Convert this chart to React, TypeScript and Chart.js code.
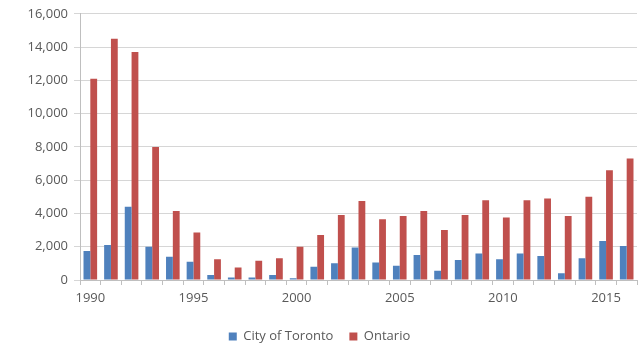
import React, { useEffect, useRef } from "react";
import { Chart, registerables } from "chart.js";

Chart.register(...registerables);

const years: string[] = [
  "1990","1991","1992","1993","1994","1995","1996","1997","1998","1999",
  "2000","2001","2002","2003","2004","2005","2006","2007","2008","2009",
  "2010","2011","2012","2013","2014","2015","2016",
];
const toronto: number[] = [
  1750, 2100, 4400, 2000, 1400, 1100, 300, 150, 150, 300,
  100, 800, 1000, 1950, 1050, 850, 1500, 550, 1200, 1600,
  1250, 1600, 1450, 400, 1300, 2350, 2050,
];
const ontario: number[] = [
  12100, 14500, 13700, 8000, 4150, 2850, 1250, 750, 1150, 1300,
  2000, 2700, 3900, 4750, 3650, 3850, 4150, 3000, 3900, 4800,
  3750, 4800, 4900, 3850, 5000, 6600, 7300,
];

export default function App() {
  const ref = useRef<HTMLCanvasElement | null>(null);
  useEffect(() => {
    if (!ref.current) return;
    const font = { family: "'Open Sans', 'Liberation Sans', sans-serif", size: 13 };
    const chart = new Chart(ref.current, {
      type: "bar",
      data: {
        labels: years,
        datasets: [
          { label: "City of Toronto", data: toronto, backgroundColor: "#4F81BD", categoryPercentage: 0.66, barPercentage: 1.0 },
          { label: "Ontario", data: ontario, backgroundColor: "#C0504D", categoryPercentage: 0.66, barPercentage: 1.0 },
        ],
      },
      options: {
        responsive: false,
        animation: false,
        maintainAspectRatio: false,
        layout: { padding: { left: 2, right: 6, top: 6, bottom: 0 } },
        plugins: {
          tooltip: { enabled: false },
          legend: {
            position: "bottom",
            labels: { boxWidth: 8, boxHeight: 8, color: "#595959", font, padding: 16 },
          },
        },
        scales: {
          x: {
            grid: { display: true, drawOnChartArea: false, drawTicks: true, tickLength: 5, color: "#BFBFBF", offset: true },
            border: { color: "#BFBFBF" },
            afterFit: (s: any) => { s.height = 34; },
            ticks: {
              color: "#595959",
              font,
              autoSkip: false,
              maxRotation: 0,
              padding: 5,
              callback: (_v: any, i: number) => (Number(years[i]) % 5 === 0 ? years[i] : ""),
            },
          },
          y: {
            min: 0,
            max: 16000,
            grid: { color: "#D6D6D6", tickLength: 6, drawTicks: true },
            border: { display: true, color: "#BFBFBF" },
            afterFit: (s: any) => { s.width = 78; },
            ticks: {
              stepSize: 2000,
              color: "#595959",
              font,
              padding: 6,
              callback: (v: any) => Number(v).toLocaleString("en-US"),
            },
          },
        },
      },
    });
    return () => chart.destroy();
  }, []);
  return (
    <div style={{ position: "fixed", left: 0, top: 0, width: 643, height: 353, background: "#fff" }}>
      <canvas ref={ref} width={643} height={353} />
    </div>
  );
}
